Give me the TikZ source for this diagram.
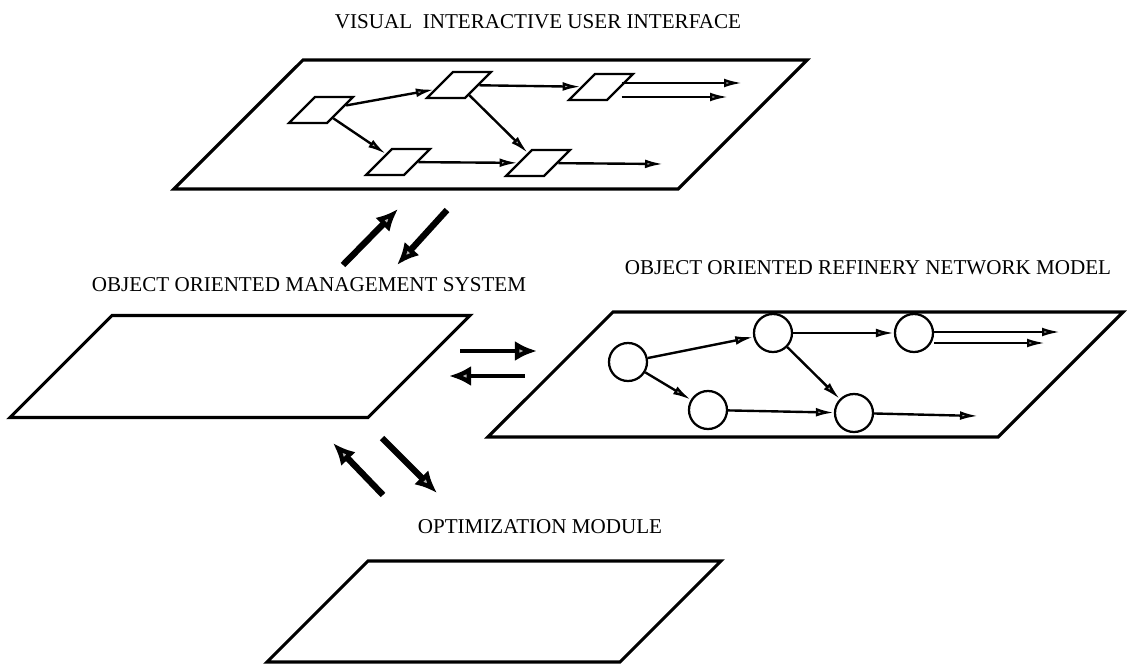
\documentclass[tikz,border=0pt]{standalone}
\usepackage{fontspec}
\setmainfont{Liberation Serif}
\usetikzlibrary{shapes.geometric,arrows.meta}
% body of a slanted sheet: inner width and height
\newcommand{\sheet}[2]{\rule{#1}{0pt}\rule{0pt}{#2}}

\begin{document}
\begin{tikzpicture}[x=0.025cm,y=-0.025cm,
	slanted/.style={trapezium, trapezium left angle=45, trapezium right angle=135, inner sep=0pt, minimum width=0pt, minimum height=0pt},
	plane/.style={slanted, draw, line width=2.2pt},
	box/.style={slanted, draw, line width=1.6pt},
	unit/.style={draw, line width=1.6pt, circle, minimum size=0.95cm, inner sep=0pt},
	flow/.style={line width=1.7pt, -{Latex[length=0.45cm,width=0.22cm,fill=gray!60]}},
	link/.style={line width=4.5pt, -{Latex[length=0.55cm,width=0.5cm,fill=gray!60]}},
	title/.style={font=\fontsize{15}{18}\selectfont, inner sep=0pt}]
	\useasboundingbox (0,0) rectangle (1127,664);
	% planes and their titles
	\node[plane] (ui) at (490.5,124.5) {\sheet{9.375cm}{3.225cm}};
	\node[plane] (oms) at (240,366.5) {\sheet{6.4cm}{2.55cm}};
	\node[plane] (net) at (805.5,374.5) {\sheet{9.625cm}{3.125cm}};
	\node[plane] (opt) at (494,611.5) {\sheet{6.3cm}{2.525cm}};
	\node[title] (tui) at (538,22) {VISUAL\ \ INTERACTIVE USER INTERFACE};
	\node[title] (toms) at (309,285) {OBJECT ORIENTED MANAGEMENT SYSTEM};
	\node[title] (tnet) at (868,268) {OBJECT ORIENTED REFINERY NETWORK MODEL};
	\node[title] (topt) at (540,527) {OPTIMIZATION MODULE};
	% user interface
	\node[box] (b1) at (321,110) {\sheet{0.3cm}{0.65cm}};
	\node[box] (b2) at (459,85) {\sheet{0.3cm}{0.65cm}};
	\node[box] (b3) at (601,87) {\sheet{0.3cm}{0.65cm}};
	\node[box] (b4) at (398,162) {\sheet{0.3cm}{0.65cm}};
	\node[box] (b5) at (538,163) {\sheet{0.3cm}{0.65cm}};
	\coordinate (b3o1) at (742,83);
	\coordinate (b3o2) at (728,97);
	\coordinate (b5o) at (663,164);
	\draw [flow] (b1) -- (b2);
	\draw [flow] (b1) -- (b4);
	\draw [flow] (b2) -- (b3);
	\draw [flow] (b2) -- (b5);
	\draw [flow] (b4) -- (b5);
	\draw [flow] (b3.east |- b3o1) -- (b3o1);
	\draw [flow] (b3.east |- b3o2) -- (b3o2);
	\draw [flow] (b5) -- (b5o);
	% network model
	\node[unit] (n1) at (628,362) {};
	\node[unit] (n2) at (773,333) {};
	\node[unit] (n3) at (914,333) {};
	\node[unit] (n4) at (708,410) {};
	\node[unit] (n5) at (854,413) {};
	\coordinate (n3o1) at (1060,332);
	\coordinate (n3o2) at (1045,343);
	\coordinate (n5o) at (978,416);
	\draw [flow] (n1) -- (n2);
	\draw [flow] (n1) -- (n4);
	\draw [flow] (n2) -- (n3);
	\draw [flow] (n2) -- (n5);
	\draw [flow] (n4) -- (n5);
	\draw [flow] (n3.east |- n3o1) -- (n3o1);
	\draw [flow] (n3.east |- n3o2) -- (n3o2);
	\draw [flow] (n5) -- (n5o);
	% links between the planes
	\coordinate (up1) at (343,265);
	\coordinate (up2) at (398,209);
	\coordinate (dn1) at (447,210);
	\coordinate (dn2) at (397,265);
	\coordinate (rt1) at (460,351);
	\coordinate (rt2) at (537,351);
	\coordinate (lt1) at (525,376);
	\coordinate (lt2) at (449,376);
	\coordinate (up3) at (383,495);
	\coordinate (up4) at (333,443);
	\coordinate (dn3) at (382,438);
	\coordinate (dn4) at (437,493);
	\draw [link] (up1) -- (up2);
	\draw [link] (dn1) -- (dn2);
	\draw [link, line width=3.2pt] (rt1) -- (rt2);
	\draw [link, line width=3.2pt] (lt1) -- (lt2);
	\draw [link] (up3) -- (up4);
	\draw [link] (dn3) -- (dn4);
\end{tikzpicture}
\end{document}
